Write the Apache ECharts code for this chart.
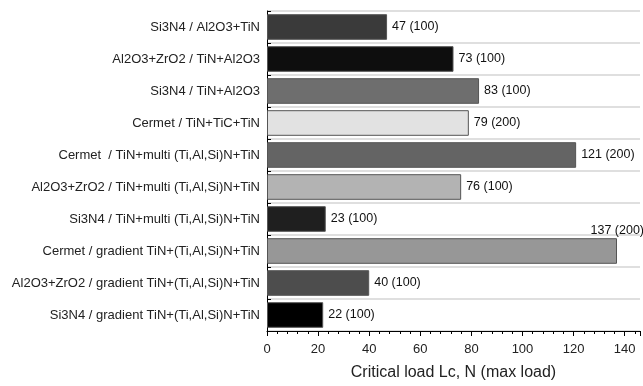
<!DOCTYPE html>
<html>
<head>
<meta charset="utf-8">
<script src="https://cdn.jsdelivr.net/npm/echarts@6/dist/echarts.min.js"></script>
<style>html,body{margin:0;padding:0;background:#fff;}#c{width:643px;height:386px;}</style>
</head>
<body>
<div id="c"></div>
<script>
var categories = [
  'Si3N4 / Al2O3+TiN',
  'Al2O3+ZrO2 / TiN+Al2O3',
  'Si3N4 / TiN+Al2O3',
  'Cermet / TiN+TiC+TiN',
  'Cermet  / TiN+multi (Ti,Al,Si)N+TiN',
  'Al2O3+ZrO2 / TiN+multi (Ti,Al,Si)N+TiN',
  'Si3N4 / TiN+multi (Ti,Al,Si)N+TiN',
  'Cermet / gradient TiN+(Ti,Al,Si)N+TiN',
  'Al2O3+ZrO2 / gradient TiN+(Ti,Al,Si)N+TiN',
  'Si3N4 / gradient TiN+(Ti,Al,Si)N+TiN'
];
var criticalLoad = [47, 73, 83, 79, 121, 76, 23, 137, 40, 22];
var maxLoad = [100, 100, 100, 200, 200, 100, 100, 200, 100, 100];
var barColors = ['#3a3a3a', '#0e0e0e', '#6e6e6e', '#e2e2e2', '#646464', '#b3b3b3', '#1f1f1f', '#979797', '#4d4d4d', '#000000'];
var xTicks = [0, 20, 40, 60, 80, 100, 120, 140];

var data = criticalLoad.map(function (v, i) {
  var item = { value: v, itemStyle: { color: barColors[i] } };
  if (v > 130) {
    item.label = { position: 'insideTopRight', offset: [32, -19] };
  }
  return item;
});

var chart = echarts.init(document.getElementById('c'), null, { renderer: 'canvas' });
chart.setOption({
  animation: false,
  grid: { left: 267, right: 0, top: 11, bottom: 52, containLabel: false },
  xAxis: {
    type: 'value',
    min: 0,
    max: 146,
    interval: 20,
    name: 'Critical load Lc, N (max load)',
    nameLocation: 'middle',
    nameGap: 34,
    nameTextStyle: { fontFamily: 'Liberation Sans', fontSize: 16, color: '#222' },
    axisLine: { show: true, lineStyle: { color: '#000', width: 1 } },
    axisTick: { show: true, inside: false, length: 5, lineStyle: { color: '#000' } },
    minorTick: { show: true, splitNumber: 5, length: 3, lineStyle: { color: '#000' } },
    splitLine: { show: false },
    axisLabel: {
      fontFamily: 'Liberation Sans', fontSize: 13, color: '#222', margin: 12,
      formatter: function (v) { return xTicks.indexOf(v) >= 0 ? String(v) : ''; }
    }
  },
  yAxis: {
    type: 'category',
    data: categories,
    inverse: true,
    axisLine: { show: true, lineStyle: { color: '#000', width: 1 } },
    axisTick: { show: true, inside: true, length: 4, lineStyle: { color: '#000' } },
    splitLine: { show: true, lineStyle: { color: '#d4d4d4', width: 1.5 } },
    axisLabel: { fontFamily: 'Liberation Sans', fontSize: 13, color: '#222', margin: 7 }
  },
  series: [{
    type: 'bar',
    data: data,
    barCategoryGap: '20%',
    itemStyle: { borderColor: '#555', borderWidth: 1 },
    label: {
      show: true,
      position: 'right',
      distance: 5,
      fontFamily: 'Liberation Sans',
      fontSize: 12.5,
      color: '#111',
      formatter: function (p) { return p.value + ' (' + maxLoad[p.dataIndex] + ')'; }
    }
  }]
});
</script>
</body>
</html>
